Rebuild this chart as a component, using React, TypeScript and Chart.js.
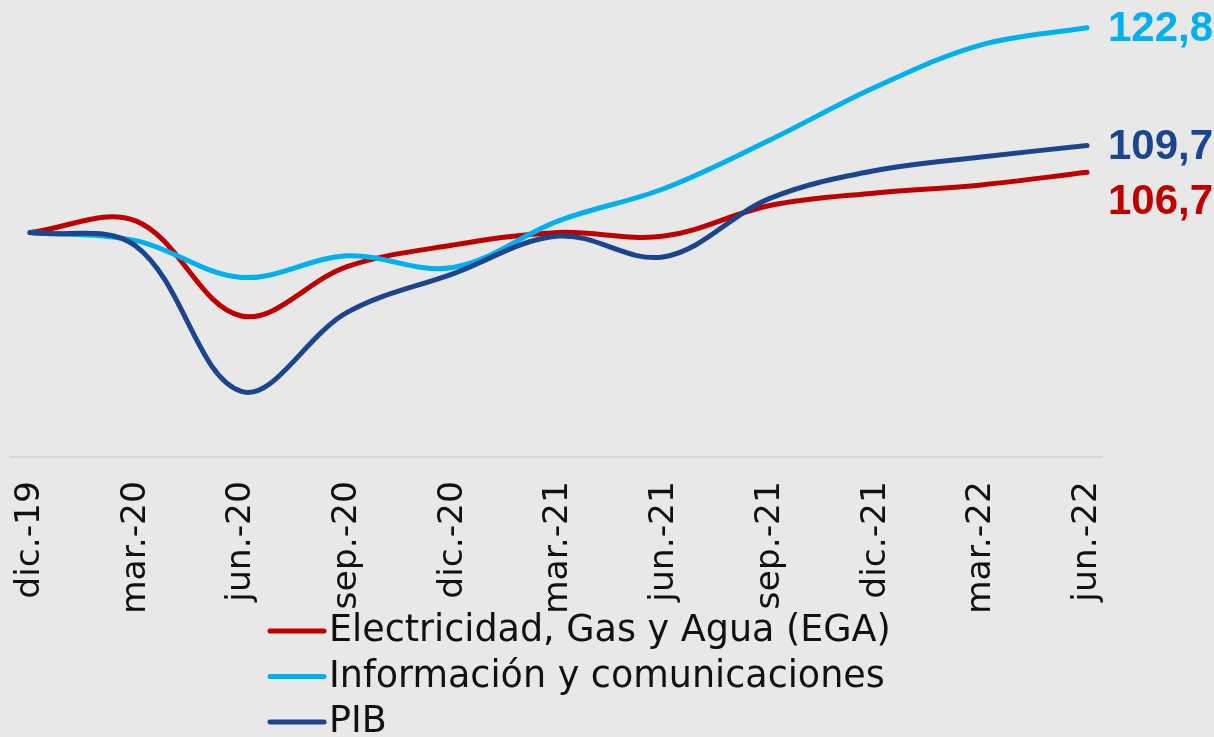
import React, { useEffect, useRef } from "react";
import { Chart, registerables } from "chart.js";

Chart.register(...registerables);

const labels = ["dic.-19", "mar.-20", "jun.-20", "sep.-20", "dic.-20", "mar.-21", "jun.-21", "sep.-21", "dic.-21", "mar.-22", "jun.-22"];
const ega = [100, 101.3, 90.7, 96.2, 98.6, 100.0, 99.6, 103.0, 104.4, 105.3, 106.7];
const infoCom = [100, 99.1, 95.0, 97.4, 96.1, 101.3, 104.9, 110.3, 116.2, 120.9, 122.8];
const pib = [100, 98.5, 82.3, 91.1, 95.4, 99.6, 97.3, 103.8, 106.9, 108.4, 109.7];
const seriesNames = ["Electricidad, Gas y Agua (EGA)", "Información y comunicaciones", "PIB"];
const endLabels = ["106,7", "122,8", "109,7"];

const colors = ["#C00000", "#00B0F0", "#1B458F"];
const endLabelDy = [30, 2, 2];

const FONT = "'DejaVu Sans', sans-serif";

const axisLinePlugin = {
  id: "axisLine",
  beforeDatasetsDraw(chart: any) {
    const { ctx, chartArea } = chart;
    ctx.save();
    ctx.strokeStyle = "#d6d6d6";
    ctx.lineWidth = 2;
    ctx.beginPath();
    ctx.moveTo(chartArea.left - 20, chartArea.bottom);
    ctx.lineTo(chartArea.right + 16, chartArea.bottom);
    ctx.stroke();
    ctx.restore();
  },
};

const endLabelPlugin = {
  id: "endLabels",
  afterDatasetsDraw(chart: any) {
    const { ctx } = chart;
    ctx.save();
    ctx.font = "bold 42px 'Liberation Sans', sans-serif";
    ctx.textAlign = "left";
    ctx.textBaseline = "middle";
    chart.data.datasets.forEach((ds: any, i: number) => {
      const meta = chart.getDatasetMeta(i);
      const pt = meta.data[meta.data.length - 1];
      ctx.fillStyle = colors[i];
      ctx.fillText(endLabels[i], pt.x + 21, pt.y + endLabelDy[i]);
    });
    ctx.restore();
  },
};

const legendPlugin = {
  id: "customLegend",
  afterDraw(chart: any) {
    const { ctx } = chart;
    ctx.save();
    ctx.font = `36.5px ${FONT}`;
    ctx.textAlign = "left";
    ctx.textBaseline = "middle";
    seriesNames.forEach((name, i) => {
      const y = 631 + i * 45.5;
      ctx.strokeStyle = colors[i];
      ctx.lineWidth = 5;
      ctx.lineCap = "round";
      ctx.beginPath();
      ctx.moveTo(270, y);
      ctx.lineTo(324, y);
      ctx.stroke();
      ctx.fillStyle = "#111";
      ctx.fillText(name, 329, y + 1);
    });
    ctx.restore();
  },
};

export default function App() {
  const ref = useRef<HTMLCanvasElement>(null);
  useEffect(() => {
    const chart = new Chart(ref.current!, {
      type: "line",
      data: {
        labels,
        datasets: [
          { label: seriesNames[0], data: ega, borderColor: colors[0], order: 3 },
          { label: seriesNames[1], data: infoCom, borderColor: colors[1], order: 2 },
          { label: seriesNames[2], data: pib, borderColor: colors[2], order: 1 },
        ].map((d) => ({
          ...d,
          borderWidth: 5,
          tension: 0.36,
          pointRadius: 0,
          fill: false,
          clip: false as any,
          borderCapStyle: "round" as const,
          cubicInterpolationMode: "default" as const,
        })),
      },
      options: {
        animation: false,
        responsive: true,
        maintainAspectRatio: false,
        layout: { padding: { left: 30, right: 127, top: 8, bottom: 0 } },
        plugins: { legend: { display: false }, tooltip: { enabled: false } },
        scales: {
          x: {
            type: "category",
            offset: false,
            grid: { display: false, drawTicks: false },
            border: { display: false },
            ticks: {
              minRotation: 90,
              maxRotation: 90,
              padding: 24,
              color: "#111",
              font: { family: FONT, size: 34.5 },
              autoSkip: false,
            },
            afterFit: (scale: any) => {
              scale.height = 280;
            },
          },
          y: { display: false, min: 75, max: 125 },
        },
      },
      plugins: [axisLinePlugin, endLabelPlugin, legendPlugin],
    });
    return () => chart.destroy();
  }, []);
  return (
    <div style={{ position: "fixed", left: 0, top: 0, width: 1214, height: 737, background: "#e8e8e8" }}>
      <canvas ref={ref} />
    </div>
  );
}
